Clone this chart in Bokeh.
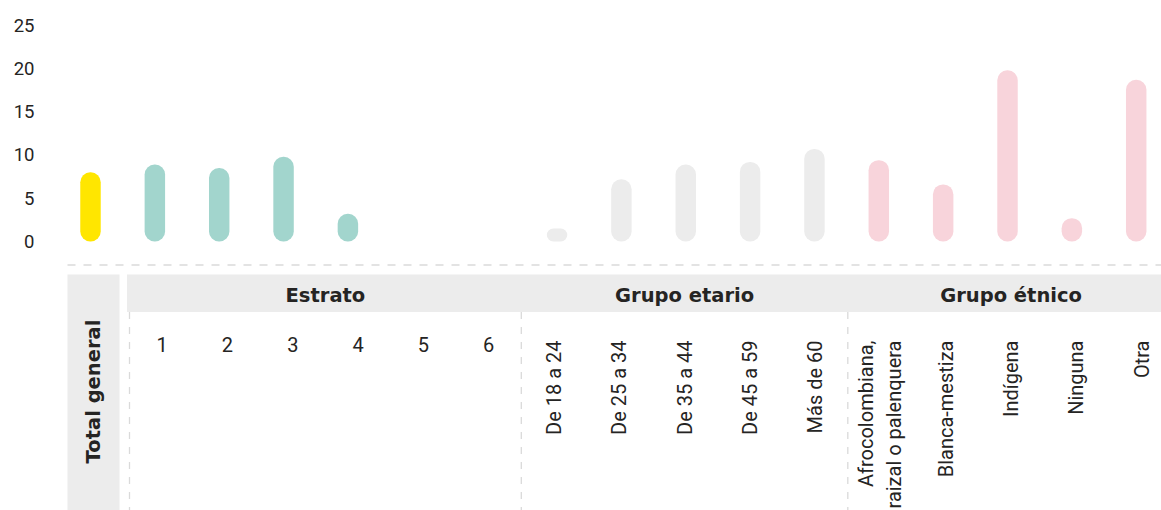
import math

from bokeh.core.properties import value
from bokeh.embed import file_html
from bokeh.models import ColumnDataSource, FixedTicker, Range1d
from bokeh.plotting import figure
from bokeh.resources import INLINE

# ---------------------------------------------------------------- data
total_label = "Total general"
total_value = 8.0

estrato_title = "Estrato"
estrato_labels = ["1", "2", "3", "4", "5", "6"]
estrato_values = [8.9, 8.5, 9.8, 3.2, None, None]

edad_title = "Grupo etario"
edad_labels = ["De 18 a 24", "De 25 a 34", "De 35 a 44", "De 45 a 59", "Más de 60"]
edad_values = [1.5, 7.2, 8.9, 9.2, 10.7]

etnia_title = "Grupo étnico"
etnia_labels = ["Afrocolombiana, raizal o palenquera", "Blanca-mestiza",
                "Indígena", "Ninguna", "Otra"]
etnia_values = [9.4, 6.6, 19.8, 2.7, 18.7]

y_ticks = [0, 5, 10, 15, 20, 25]

# ---------------------------------------------------------------- styling
YELLOW = "#FFE600"
TEAL = "#A2D5CD"
GREY_BAR = "#ECECEC"
PINK = "#F8D4DB"
PANEL = "#ECECEC"
TEXT = "#252423"
DASH = "#DADADA"

W, H = 1161, 510
FRAME_LEFT = 40

# bar slots: one slot per category, a small extra gap after the Estrato block
groups = [
    ([total_label], [total_value], YELLOW, 0.0),
    (estrato_labels, estrato_values, TEAL, 0.0),
    (edad_labels, edad_values, GREY_BAR, 0.25),
    (etnia_labels, etnia_values, PINK, 0.0),
]
xs, tops, colors = [], [], []
slot, offset = 0, 0.0
for labels, vals, color, gap in groups:
    offset += gap
    for lab, v in zip(labels, vals):
        if v is not None:
            xs.append(slot + offset)
            tops.append(v)
            colors.append(color)
        slot += 1

bars = ColumnDataSource(dict(x=xs, top=tops, color=colors))

p = figure(width=W, height=H,
           x_range=Range1d(-0.777, 16.643),
           y_range=Range1d(-31.1, 27.86),
           output_backend="svg", toolbar_location=None,
           x_axis_location=None, y_axis_location="left",
           min_border_left=FRAME_LEFT, min_border_right=0,
           min_border_top=0, min_border_bottom=0)
p.outline_line_color = None
p.grid.visible = False
p.background_fill_color = "white"
p.border_fill_color = "white"

yax = p.yaxis[0]
yax.ticker = FixedTicker(ticks=y_ticks)
yax.axis_line_color = None
yax.major_tick_line_color = None
yax.minor_tick_line_color = None
yax.major_tick_out = 0
yax.major_label_standoff = 6
yax.major_label_text_font = "Roboto"
yax.major_label_text_font_size = "18.5px"
yax.major_label_text_color = TEXT

p.vbar(x="x", top="top", bottom=0, width=0.318, source=bars,
       fill_color="color", line_color=None, border_radius=10)

# ---------------------------------------------------------------- table below the bars
# screen-like coordinates for the category table
p.extra_x_ranges = {"px": Range1d(FRAME_LEFT, W)}
p.extra_y_ranges = {"px": Range1d(H, 0)}
PX = dict(x_range_name="px", y_range_name="px")

HEAD_TOP, HEAD_BOTTOM = 274, 311.5
TABLE_LEFT = 129
COL_W = 65.3

p.segment(x0=[67], y0=[264.5], x1=[W], y1=[264.5], line_color=DASH,
          line_width=1.3, line_dash="8 8", **PX)

p.quad(left=[67], right=[119], top=[HEAD_TOP], bottom=[H],
       fill_color=PANEL, line_color=None, **PX)
p.text(x=[93], y=[391], text=[total_label], angle=math.pi / 2,
       text_align="center", text_baseline="middle",
       text_font=value("DejaVu Sans"), text_font_style="bold",
       text_font_size="19.5px", text_color=TEXT, **PX)

p.quad(left=[126.5], right=[W], top=[HEAD_TOP], bottom=[HEAD_BOTTOM],
       fill_color=PANEL, line_color=None, **PX)

table_groups = [
    (estrato_title, estrato_labels, False),
    (edad_title, edad_labels, True),
    (etnia_title, etnia_labels, True),
]
start = TABLE_LEFT
for title, labels, rotated in table_groups:
    end = start + COL_W * len(labels)
    p.segment(x0=[start], y0=[HEAD_BOTTOM], x1=[start], y1=[H],
              line_color=DASH, line_width=1.3, line_dash="7 8", **PX)
    p.text(x=[(start + end) / 2], y=[294.5], text=[title],
           text_align="center", text_baseline="middle",
           text_font=value("DejaVu Sans"), text_font_style="bold",
           text_font_size="19.5px", text_color=TEXT, **PX)
    centers = [start + COL_W * (i + 0.5) for i in range(len(labels))]
    if not rotated:
        p.text(x=centers, y=[344] * len(labels), text=labels,
               text_align="center", text_baseline="middle",
               text_font=value("Roboto"), text_font_size="20px",
               text_color=TEXT, **PX)
    else:
        lx, ly, lt = [], [], []
        for c, lab in zip(centers, labels):
            lines = lab.split(", ")
            if len(lines) > 1:
                lines = [lines[0] + ","] + lines[1:]
            n = len(lines)
            for k, line in enumerate(lines):
                lx.append(c + (k - (n - 1) / 2) * 28)
                ly.append(340)
                lt.append(line)
        p.text(x=lx, y=ly, text=lt, angle=math.pi / 2,
               text_align="right", text_baseline="middle",
               text_font=value("Roboto"), text_font_size="20px",
               text_color=TEXT, **PX)
    start = end

open("out.html", "w").write(file_html(p, INLINE))
